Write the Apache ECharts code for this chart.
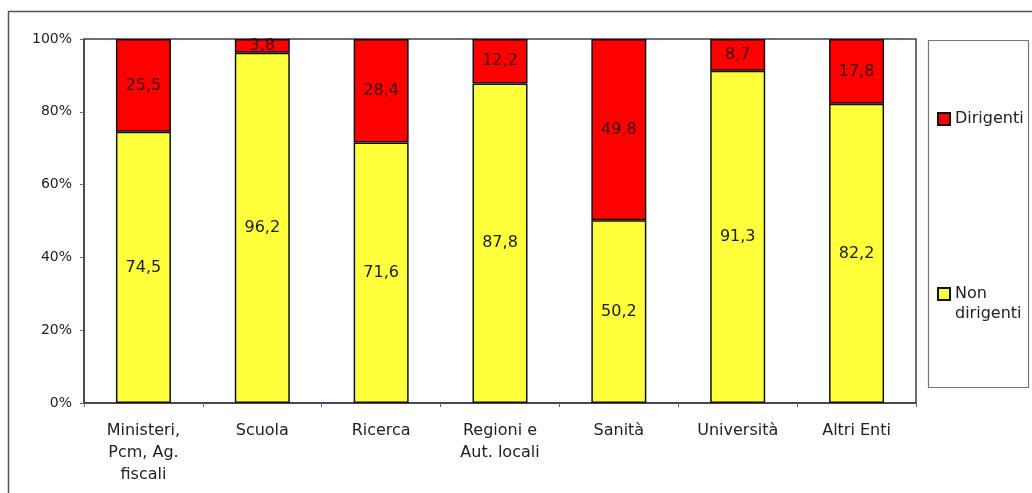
<!DOCTYPE html>
<html>
<head>
<meta charset="utf-8">
<script src="https://cdn.jsdelivr.net/npm/echarts@6/dist/echarts.min.js"></script>
<style>
html,body{margin:0;padding:0;background:#fff;}
#c{width:1032px;height:493px;}
</style>
</head>
<body>
<div id="c"></div>
<script>
var categories = ['Ministeri,\nPcm, Ag.\nfiscali', 'Scuola', 'Ricerca', 'Regioni e\nAut. locali', 'Sanità', 'Università', 'Altri Enti'];
var nonDirigenti = [74.5, 96.2, 71.6, 87.8, 50.2, 91.3, 82.2];
var dirigenti = [25.5, 3.8, 28.4, 12.2, 49.8, 8.7, 17.8];
var yTicks = [0, 20, 40, 60, 80, 100];

var FONT = '"DejaVu Sans", "Liberation Sans", Arial, sans-serif';
var axisCol = '#3b3b5a';
function fmt(p){ return String(p.value).replace('.', ','); }

var chart = echarts.init(document.getElementById('c'), null, {renderer:'canvas'});
chart.setOption({
  animation: false,
  backgroundColor: '#fff',
  textStyle: {fontFamily: FONT},
  grid: {left: 84, right: 116, top: 39, bottom: 90, show: true, borderColor: axisCol, borderWidth: 1.5, backgroundColor: 'transparent'},
  graphic: [
    {type: 'line', shape: {x1: 8, y1: 11.5, x2: 1032, y2: 11.5}, style: {stroke: '#555', lineWidth: 1.5}},
    {type: 'line', shape: {x1: 8.5, y1: 11, x2: 8.5, y2: 493}, style: {stroke: '#555', lineWidth: 1.5}},
    {type: 'rect', shape: {x: 928.5, y: 40.5, width: 100, height: 347}, style: {fill: 'transparent', stroke: '#777', lineWidth: 1.2}}
  ],
  legend: [
    {data: ['Dirigenti'], orient: 'vertical', left: 937, top: 109, padding: 0, icon: 'rect', itemWidth: 12, itemHeight: 12, itemGap: 0,
     textStyle: {fontFamily: FONT, fontSize: 16, color: '#222', lineHeight: 20}},
    {data: ['Non dirigenti'], orient: 'vertical', left: 937, top: 264, padding: 0, icon: 'rect', itemWidth: 12, itemHeight: 12, itemGap: 0,
     formatter: function(){ return ' \nNon\ndirigenti'; },
     textStyle: {fontFamily: FONT, fontSize: 16, color: '#222', lineHeight: 20}}
  ],
  xAxis: {
    type: 'category', data: categories,
    axisLine: {lineStyle: {color: axisCol, width: 1.5}},
    axisTick: {show: true, length: 4, lineStyle: {color: '#666'}},
    axisLabel: {fontFamily: FONT, fontSize: 16, color: '#222', lineHeight: 22, margin: 17, interval: 0}
  },
  yAxis: {
    type: 'value', min: 0, max: 100, interval: 20,
    axisLine: {show: true, lineStyle: {color: axisCol, width: 1.5}},
    axisTick: {show: true, length: 4, lineStyle: {color: '#666'}},
    splitLine: {show: false},
    axisLabel: {fontFamily: FONT, fontSize: 14, color: '#222', margin: 12,
      formatter: function(v){ return yTicks.indexOf(v) >= 0 ? v + '%' : ''; }}
  },
  series: [
    {name: 'Non dirigenti', type: 'bar', stack: 's', data: nonDirigenti, barWidth: 55,
     itemStyle: {color: '#ffff3c', borderColor: '#111', borderWidth: 1.5},
     label: {show: true, position: 'inside', formatter: fmt, fontFamily: FONT, fontSize: 16, color: '#1a1a1a'}},
    {name: 'Dirigenti', type: 'bar', stack: 's', data: dirigenti, barWidth: 55,
     itemStyle: {color: '#fe0000', borderColor: '#111', borderWidth: 1.5},
     label: {show: true, position: 'inside', formatter: fmt, fontFamily: FONT, fontSize: 16, color: '#3a0a0a'}}
  ]
});
</script>
</body>
</html>
